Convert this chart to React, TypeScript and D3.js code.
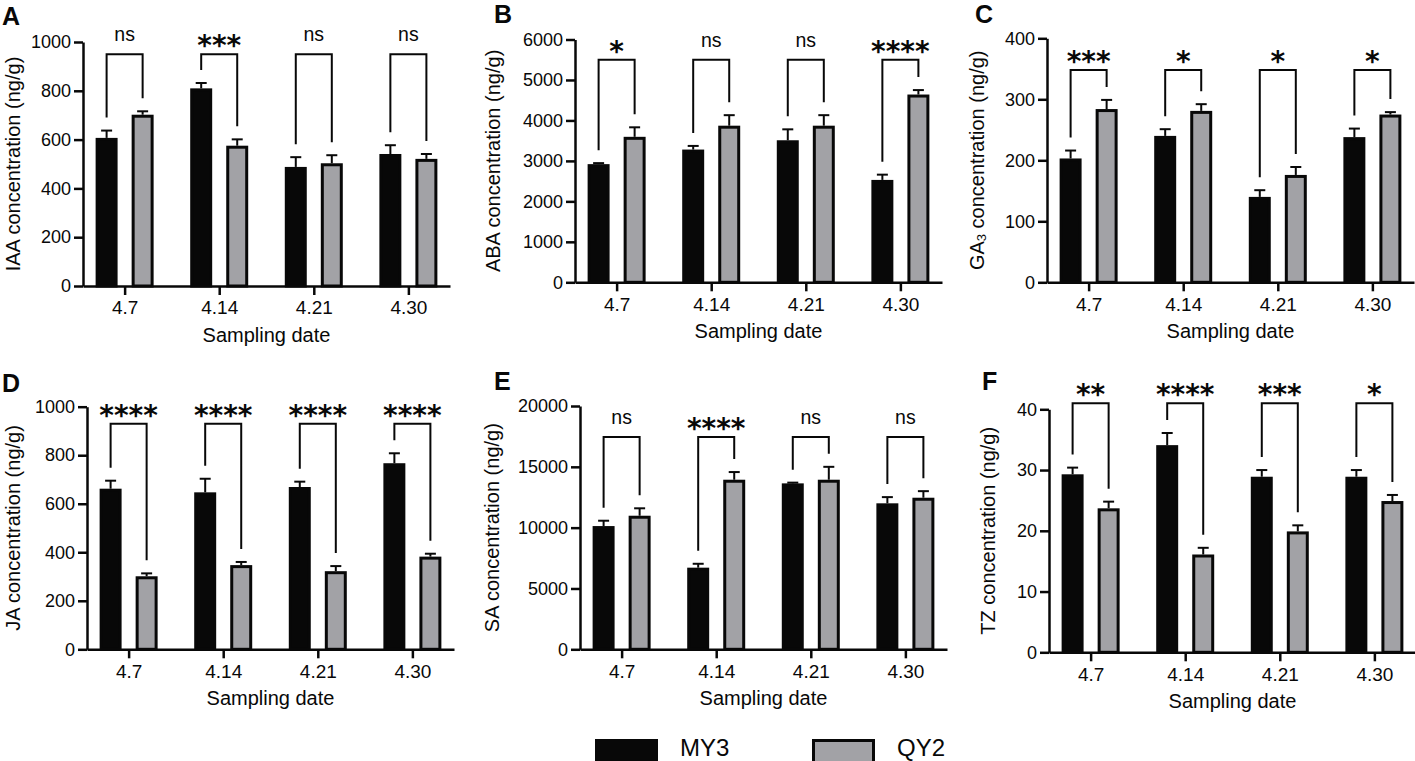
import React, { useRef, useEffect } from 'react';
import * as d3 from 'd3';

// sampling dates and cultivars
const dates = ['4.7', '4.14', '4.21', '4.30'];
const cultivars = ['MY3', 'QY2'];

// IAA (ng/g)
const iaaMY3 = [607, 810, 488, 541];
const iaaMY3Sd = [30, 22, 40, 36];
const iaaQY2 = [702, 575, 503, 521];
const iaaQY2Sd = [14, 26, 33, 20];
const iaaSig = ['ns', '***', 'ns', 'ns'];

// ABA (ng/g)
const abaMY3 = [2920, 3280, 3510, 2530];
const abaMY3Sd = [25, 90, 270, 130];
const abaQY2 = [3595, 3870, 3870, 4640];
const abaQY2Sd = [235, 260, 260, 110];
const abaSig = ['*', 'ns', 'ns', '****'];

// GA3 (ng/g)
const ga3MY3 = [203, 240, 140, 238];
const ga3MY3Sd = [13, 11, 11, 14];
const ga3QY2 = [284, 281, 176, 275];
const ga3QY2Sd = [15, 11, 13, 4];
const ga3Sig = ['***', '*', '*', '*'];

// JA (ng/g)
const jaMY3 = [662, 647, 669, 767];
const jaMY3Sd = [33, 56, 22, 41];
const jaQY2 = [301, 347, 322, 382];
const jaQY2Sd = [12, 13, 21, 12];
const jaSig = ['****', '****', '****', '****'];

// SA (ng/g)
const saMY3 = [10130, 6710, 13640, 12000];
const saMY3Sd = [440, 320, 60, 510];
const saQY2 = [10980, 13940, 13940, 12460];
const saQY2Sd = [610, 630, 1060, 540];
const saSig = ['ns', '****', 'ns', 'ns'];

// TZ (ng/g)
const tzMY3 = [29.3, 34.1, 28.9, 28.9];
const tzMY3Sd = [1.1, 2.0, 1.1, 1.1];
const tzQY2 = [23.7, 16.1, 19.9, 24.9];
const tzQY2Sd = [1.1, 1.1, 1.0, 1.0];
const tzSig = ['**', '****', '***', '*'];

// axis ticks
const ticks1000 = [0, 200, 400, 600, 800, 1000];
const ticks6000 = [0, 1000, 2000, 3000, 4000, 5000, 6000];
const ticks400 = [0, 100, 200, 300, 400];
const ticks20000 = [0, 5000, 10000, 15000, 20000];
const ticks40 = [0, 10, 20, 30, 40];

const panels = [
  { id: 'A', hormone: 'IAA', my3: iaaMY3, my3Sd: iaaMY3Sd, qy2: iaaQY2, qy2Sd: iaaQY2Sd, sig: iaaSig, ticks: ticks1000, bracket: 950 },
  { id: 'B', hormone: 'ABA', my3: abaMY3, my3Sd: abaMY3Sd, qy2: abaQY2, qy2Sd: abaQY2Sd, sig: abaSig, ticks: ticks6000, bracket: 5500 },
  { id: 'C', hormone: 'GA', sub: '3', my3: ga3MY3, my3Sd: ga3MY3Sd, qy2: ga3QY2, qy2Sd: ga3QY2Sd, sig: ga3Sig, ticks: ticks400, bracket: 348 },
  { id: 'D', hormone: 'JA', my3: jaMY3, my3Sd: jaMY3Sd, qy2: jaQY2, qy2Sd: jaQY2Sd, sig: jaSig, ticks: ticks1000, bracket: 930 },
  { id: 'E', hormone: 'SA', my3: saMY3, my3Sd: saMY3Sd, qy2: saQY2, qy2Sd: saQY2Sd, sig: saSig, ticks: ticks20000, bracket: 17450 },
  { id: 'F', hormone: 'TZ', my3: tzMY3, my3Sd: tzMY3Sd, qy2: tzQY2, qy2Sd: tzQY2Sd, sig: tzSig, ticks: ticks40, bracket: 41 },
];

// where each panel sits on the page
const layout = [
  { x: 83, top: 42, zero: 286, titleX: 13, letterX: 2, letterY: 25 },
  { x: 575, top: 39.5, zero: 282.3, titleX: 493, letterX: 494, letterY: 23 },
  { x: 1047, top: 38.3, zero: 282.3, titleX: 977, letterX: 975, letterY: 23 },
  { x: 87, top: 406.7, zero: 649.3, titleX: 13, letterX: 2, letterY: 392 },
  { x: 580, top: 406, zero: 649.3, titleX: 492, letterX: 494, letterY: 390 },
  { x: 1049, top: 409.3, zero: 652.3, titleX: 988, letterX: 982, letterY: 390 },
];

const W = 1415;
const H = 761;
const plotW = 367;
const FONT = '"Liberation Sans", Arial, Helvetica, sans-serif';
const BLACK = '#080808';
const GREY = '#a2a2a6';

const App: React.FC = () => {
  const svgRef = useRef<SVGSVGElement | null>(null);

  useEffect(() => {
    const svg = d3.select(svgRef.current);
    svg.selectAll('*').remove();

    panels.forEach((p, i) => {
      const L = layout[i];
      const g = svg.append('g');

      const y = d3.scaleLinear()
        .domain([0, p.ticks[p.ticks.length - 1]])
        .range([L.zero, L.top]);
      const x0 = d3.scalePoint<string>()
        .domain(dates)
        .range([L.x, L.x + plotW])
        .padding(0.44);
      const x1 = d3.scaleBand<string>()
        .domain(cultivars)
        .range([-29, 29])
        .paddingInner(0.39);
      const bw = x1.bandwidth();

      const rows = dates.map((d, j) => ({
        date: d,
        vals: [
          { c: 'MY3', v: p.my3[j], sd: p.my3Sd[j] },
          { c: 'QY2', v: p.qy2[j], sd: p.qy2Sd[j] },
        ],
        sig: p.sig[j],
      }));

      // bars
      rows.forEach(r => {
        r.vals.forEach(b => {
          const bx = (x0(r.date) as number) + (x1(b.c) as number);
          g.append('rect')
            .attr('x', bx + 1.5)
            .attr('y', y(b.v) + 1.5)
            .attr('width', bw - 3)
            .attr('height', L.zero - y(b.v) - 1.5)
            .attr('fill', b.c === 'MY3' ? BLACK : GREY)
            .attr('stroke', BLACK)
            .attr('stroke-width', 3);
          // error bar (upper only)
          const cx = bx + bw / 2;
          g.append('line')
            .attr('x1', cx).attr('x2', cx)
            .attr('y1', y(b.v)).attr('y2', y(b.v + b.sd))
            .attr('stroke', BLACK).attr('stroke-width', 2);
          g.append('line')
            .attr('x1', cx - 5.5).attr('x2', cx + 5.5)
            .attr('y1', y(b.v + b.sd)).attr('y2', y(b.v + b.sd))
            .attr('stroke', BLACK).attr('stroke-width', 2);
        });

        // significance bracket
        const [a, b] = r.vals;
        const ax = (x0(r.date) as number) + (x1('MY3') as number) + bw / 2;
        const bx2 = (x0(r.date) as number) + (x1('QY2') as number) + bw / 2;
        const by = y(p.bracket);
        g.append('path')
          .attr('d', `M${ax},${y(a.v + a.sd) - 13}V${by}H${bx2}V${y(b.v + b.sd) - 13}`)
          .attr('fill', 'none')
          .attr('stroke', BLACK)
          .attr('stroke-width', 2);
        const mid = (ax + bx2) / 2;
        if (r.sig === 'ns') {
          g.append('text')
            .attr('x', mid).attr('y', by - 13)
            .attr('text-anchor', 'middle')
            .attr('font-family', FONT).attr('font-size', 19.5)
            .attr('fill', BLACK)
            .text('ns');
        } else {
          g.append('text')
            .attr('x', mid).attr('y', by + 1)
            .attr('text-anchor', 'middle')
            .attr('font-family', '"DejaVu Sans", sans-serif')
            .attr('font-weight', 'bold')
            .attr('font-size', 28)
            .attr('fill', BLACK)
            .text(r.sig);
        }
      });

      // axes
      const yAxis = g.append('g')
        .attr('transform', `translate(${L.x},0)`)
        .call(d3.axisLeft(y).tickValues(p.ticks).tickSize(9).tickSizeOuter(0).tickPadding(3).tickFormat(d3.format('d')));
      const xAxis = g.append('g')
        .attr('transform', `translate(0,${L.zero})`)
        .call(d3.axisBottom(x0).tickSize(9).tickSizeOuter(0).tickPadding(6));
      [yAxis, xAxis].forEach((ax, k) => {
        ax.select('.domain').attr('stroke', BLACK).attr('stroke-width', 2.5);
        ax.selectAll('.tick line').attr('stroke', BLACK).attr('stroke-width', 2.5);
        ax.selectAll('.tick text')
          .attr('fill', BLACK)
          .attr('font-family', FONT)
          .attr('font-size', k === 0 ? 18 : 19);
      });

      // axis titles
      g.append('text')
        .attr('x', L.x + plotW / 2)
        .attr('y', L.zero + 56)
        .attr('text-anchor', 'middle')
        .attr('font-family', FONT).attr('font-size', 20)
        .attr('fill', BLACK)
        .text('Sampling date');

      const yt = g.append('text')
        .attr('transform', `translate(${L.titleX},${(L.top + L.zero) / 2}) rotate(-90)`)
        .attr('text-anchor', 'middle')
        .attr('dominant-baseline', 'central')
        .attr('font-family', FONT).attr('font-size', 20)
        .attr('fill', BLACK);
      yt.append('tspan').text(p.hormone);
      if (p.sub) {
        yt.append('tspan').attr('font-size', 13).attr('dy', 4).text(p.sub);
        yt.append('tspan').attr('dy', -4).text(' concentration (ng/g)');
      } else {
        yt.append('tspan').text(' concentration (ng/g)');
      }

      // panel letter
      g.append('text')
        .attr('x', L.letterX).attr('y', L.letterY)
        .attr('font-family', FONT).attr('font-weight', 'bold').attr('font-size', 25)
        .attr('fill', BLACK)
        .text(p.id);
    });

    // legend
    const legendX = [595, 812];
    cultivars.forEach((c, i) => {
      svg.append('rect')
        .attr('x', legendX[i] + 1.5).attr('y', 740.5)
        .attr('width', 60).attr('height', 30)
        .attr('fill', c === 'MY3' ? BLACK : GREY)
        .attr('stroke', BLACK).attr('stroke-width', 3);
      svg.append('text')
        .attr('x', legendX[i] + 85).attr('y', 756)
        .attr('font-family', FONT).attr('font-size', 24)
        .attr('fill', BLACK)
        .text(c);
    });
  }, []);

  return (
    <svg
      ref={svgRef}
      width={W}
      height={H}
      style={{ position: 'absolute', left: 0, top: 0, background: '#fff' }}
    />
  );
};

export default App;
